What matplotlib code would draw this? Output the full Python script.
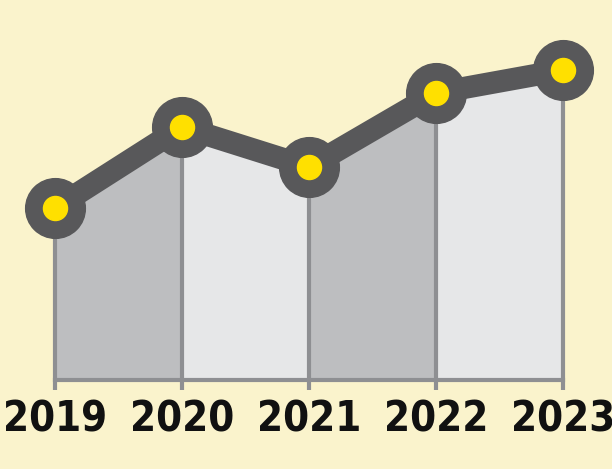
import matplotlib
matplotlib.use("Agg")
import matplotlib.pyplot as plt

years = ["2019", "2020", "2021", "2022", "2023"]
values = [172, 253, 213, 287, 310]
fills = ["#BDBEC0", "#E6E7E8", "#BDBEC0", "#E6E7E8"]

fig = plt.figure(figsize=(6.12, 4.69), dpi=100)
fig.patch.set_facecolor("#FAF3CC")
ax = fig.add_axes([0, 0, 1, 1])
ax.set_facecolor("#FAF3CC")
ax.set_xlim(-55/127, (612-55)/127)
ax.set_ylim(-89, 380)
ax.axis("off")

xs = list(range(len(years)))
for i in range(len(xs)-1):
    ax.fill_between([xs[i], xs[i+1]], [0, 0], [values[i], values[i+1]], color=fills[i], lw=0, zorder=1)
for x, v in zip(xs, values):
    ax.plot([x, x], [-10, v], color="#8E8F92", lw=3, zorder=2, solid_capstyle="butt")
ax.plot([xs[0], xs[-1]], [0, 0], color="#8E8F92", lw=3, zorder=2)
ax.plot(xs, values, color="#58585A", lw=16, zorder=3, solid_capstyle="round")
ax.scatter(xs, values, s=1850, color="#58585A", zorder=4)
ax.scatter(xs, values, s=300, color="#FFE000", zorder=5)
for x, y in zip(xs, years):
    ax.text(x, -39, y, ha="center", va="center", fontsize=30, fontweight="bold",
            fontstretch="condensed", family=["DejaVu Sans"], color="#111111")
fig.savefig("out.png", dpi=100, facecolor=fig.get_facecolor())
